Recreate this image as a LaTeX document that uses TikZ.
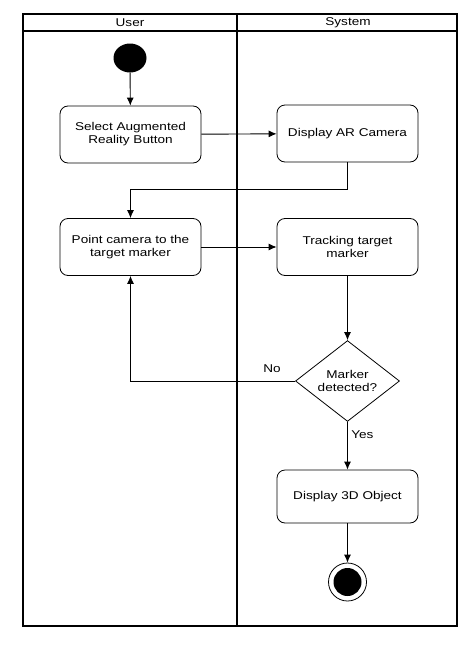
\documentclass[tikz,border=0pt]{standalone}
\usepackage{fontspec}
\setmainfont{Liberation Sans}[FakeStretch=1.2]
\usetikzlibrary{shapes.geometric}
\usetikzlibrary{arrows.meta}

\tikzset{
    act/.style = {draw, rounded corners=8pt, line width=0.8pt,
        minimum width=141pt, minimum height=57pt, align=center},
    flow/.style = {-{Latex[length=8pt, width=7pt]}, line width=0.9pt},
}

\begin{document}
\begin{tikzpicture}[x=1pt, y=-1pt, font=\fontsize{11.3}{13}\selectfont]
        \useasboundingbox (0,0) rectangle (473,645);

        % swimlanes
        \draw[line width=1.6pt] (23,14) rectangle (457,626);
        \draw[line width=1.6pt] (23,31) -- (457,31);
        \draw[line width=2.4pt] (237,14) -- (237,626);
        \node (user) at (130,22.5) {User};
        \node (system) at (348,22.5) {System};

        % activities
        \node[ellipse, fill, minimum width=33pt, minimum height=29pt] (start) at (130,58) {};
        \node[act] (select) at (130.5,134.5) {Select Augmented\\Reality Button};
        \node[act] (camera) at (347.5,133.5) {Display AR Camera};
        \node[act] (point) at (130.5,247) {Point camera to the\\target marker};
        \node[act] (track) at (347.5,247) {Tracking target\\marker};
        \node[diamond, draw, line width=0.8pt, inner sep=0pt, align=center,
            minimum width=104pt, minimum height=80pt] (detect) at (347.5,381)
            {Marker\\detected?};
        \node[act, minimum height=53pt] (show) at (347.5,496.5) {Display 3D Object};
        \node[circle, draw, line width=0.8pt, minimum size=38pt] (stop) at (347.5,582) {};
        \node[circle, fill, minimum size=28pt] (stopdot) at (stop) {};

        % flows
        \draw[flow] (start) -- (select);
        \draw[flow] (select) -- (camera);
        \draw[flow] (camera.south) -- ++(0,27) -| (point.north);
        \draw[flow] (point) -- (track);
        \draw[flow] (track) -- (detect);
        \draw[flow] (detect.west) -| (point.south)
            node[pos=0.07, above=5pt] {No};
        \draw[flow] (detect) -- (show)
            node[pos=0.27, right] {Yes};
        \draw[flow] (show) -- (stop);
\end{tikzpicture}
\end{document}
